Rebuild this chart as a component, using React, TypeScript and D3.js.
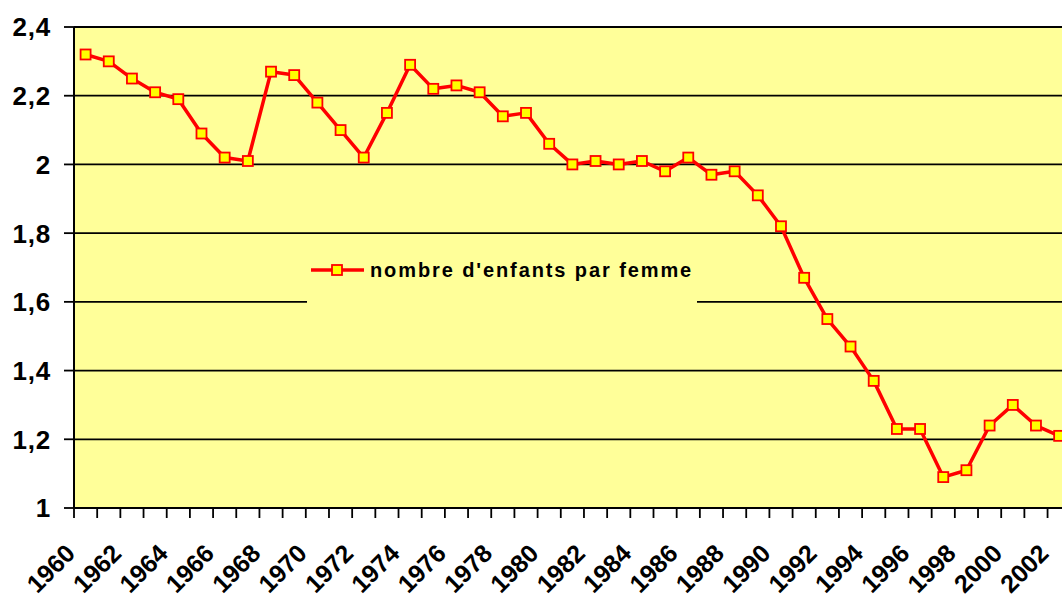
import { useEffect, useRef } from 'react'
import * as d3 from 'd3'

// Births per woman, 1960-2002
const YEARS: number[] = d3.range(1960, 2003)
const FERTILITY: number[] = [
  2.32, 2.30, 2.25, 2.21, 2.19, 2.09, 2.02, 2.01, 2.27, 2.26,
  2.18, 2.10, 2.02, 2.15, 2.29, 2.22, 2.23, 2.21, 2.14, 2.15,
  2.06, 2.00, 2.01, 2.00, 2.01, 1.98, 2.02, 1.97, 1.98, 1.91,
  1.82, 1.67, 1.55, 1.47, 1.37, 1.23, 1.23, 1.09, 1.11, 1.24,
  1.30, 1.24, 1.21,
]
const Y_TICKS: number[] = [1, 1.2, 1.4, 1.6, 1.8, 2, 2.2, 2.4]
const SERIES_LABEL = "nombre d'enfants par femme"

const WIDTH = 1062
const HEIGHT = 603
const FONT = '"Liberation Sans", Arial, sans-serif'

export default function App() {
  const svgRef = useRef<SVGSVGElement>(null)

  useEffect(() => {
    if (!svgRef.current) return
    const svg = d3.select(svgRef.current)
    svg.selectAll('*').remove()

    // plot area runs past the right edge of the picture (it is cropped there)
    const left = 74
    const top = 27
    const bottom = 508
    const step = 23.18

    const x = d3.scaleBand<number>()
      .domain(YEARS)
      .range([left, left + step * YEARS.length])
      .padding(0)

    const y = d3.scaleLinear()
      .domain([1, 2.4])
      .range([bottom, top])

    const fmt = (v: number) => String(+v.toFixed(1)).replace('.', ',')

    // background
    svg.append('rect')
      .attr('x', left)
      .attr('y', top)
      .attr('width', step * YEARS.length)
      .attr('height', bottom - top)
      .attr('fill', '#ffff99')

    // horizontal grid lines
    svg.append('g')
      .selectAll('line')
      .data(Y_TICKS.slice(1))
      .join('line')
      .attr('x1', left)
      .attr('x2', WIDTH + 20)
      .attr('y1', d => y(d))
      .attr('y2', d => y(d))
      .attr('stroke', '#000')
      .attr('stroke-width', 1.8)

    // y axis
    const yAxis = svg.append('g')
    yAxis.append('line')
      .attr('x1', left).attr('x2', left)
      .attr('y1', top).attr('y2', bottom)
      .attr('stroke', '#000')
      .attr('stroke-width', 2)
    yAxis.selectAll('line.tick')
      .data(Y_TICKS)
      .join('line')
      .attr('class', 'tick')
      .attr('x1', left - 10).attr('x2', left)
      .attr('y1', d => y(d)).attr('y2', d => y(d))
      .attr('stroke', '#000')
      .attr('stroke-width', 1.8)
    yAxis.selectAll('text')
      .data(Y_TICKS)
      .join('text')
      .attr('x', 51)
      .attr('y', d => y(d))
      .attr('dy', '0.36em')
      .attr('text-anchor', 'end')
      .attr('font-family', FONT)
      .attr('font-weight', 'bold')
      .attr('font-size', 26)
      .attr('letter-spacing', 0.8)
      .text(d => fmt(d))

    // x axis
    const xAxis = svg.append('g')
    xAxis.append('line')
      .attr('x1', left).attr('x2', WIDTH + 20)
      .attr('y1', bottom).attr('y2', bottom)
      .attr('stroke', '#000')
      .attr('stroke-width', 2)
    xAxis.selectAll('line.tick')
      .data([...YEARS, YEARS[YEARS.length - 1] + 1])
      .join('line')
      .attr('class', 'tick')
      .attr('x1', (d, i) => left + i * x.step())
      .attr('x2', (d, i) => left + i * x.step())
      .attr('y1', bottom).attr('y2', bottom + 10)
      .attr('stroke', '#000')
      .attr('stroke-width', 1.8)
    xAxis.selectAll('text')
      .data(YEARS.filter(d => d % 2 === 0))
      .join('text')
      .attr('transform', d => `translate(${x(d)! + x.bandwidth() / 2 - 9},555) rotate(-45)`)
      .attr('text-anchor', 'end')
      .attr('font-family', FONT)
      .attr('font-weight', 'bold')
      .attr('font-size', 25)
      .text(d => String(d))

    // series line
    const line = d3.line<number>()
      .x((d, i) => x(YEARS[i])! + x.bandwidth() / 2)
      .y(d => y(d))

    svg.append('path')
      .datum(FERTILITY)
      .attr('fill', 'none')
      .attr('stroke', '#ff0000')
      .attr('stroke-width', 3.5)
      .attr('stroke-linejoin', 'round')
      .attr('d', line)

    svg.append('g')
      .selectAll('rect')
      .data(FERTILITY)
      .join('rect')
      .attr('x', (d, i) => x(YEARS[i])! + x.bandwidth() / 2 - 5)
      .attr('y', d => y(d) - 5)
      .attr('width', 10)
      .attr('height', 10)
      .attr('fill', '#ffff00')
      .attr('stroke', '#ff0000')
      .attr('stroke-width', 1.8)

    // legend (no border, covers the grid line)
    const legend = svg.append('g')
    legend.append('rect')
      .attr('x', 307)
      .attr('y', 235)
      .attr('width', 390)
      .attr('height', 68)
      .attr('fill', '#ffff99')
    legend.append('line')
      .attr('x1', 311).attr('x2', 364)
      .attr('y1', 270).attr('y2', 270)
      .attr('stroke', '#ff0000')
      .attr('stroke-width', 3.5)
    legend.append('rect')
      .attr('x', 332).attr('y', 265)
      .attr('width', 10).attr('height', 10)
      .attr('fill', '#ffff00')
      .attr('stroke', '#ff0000')
      .attr('stroke-width', 1.8)
    legend.append('text')
      .attr('x', 370)
      .attr('y', 277)
      .attr('font-family', FONT)
      .attr('font-weight', 'bold')
      .attr('font-size', 20)
      .attr('letter-spacing', 1.9)
      .text(SERIES_LABEL)
  }, [])

  return (
    <>
      <style>{`body { margin: 0; }`}</style>
      <svg
        ref={svgRef}
        width={WIDTH}
        height={HEIGHT}
        style={{ display: 'block', background: '#fff' }}
      />
    </>
  )
}
